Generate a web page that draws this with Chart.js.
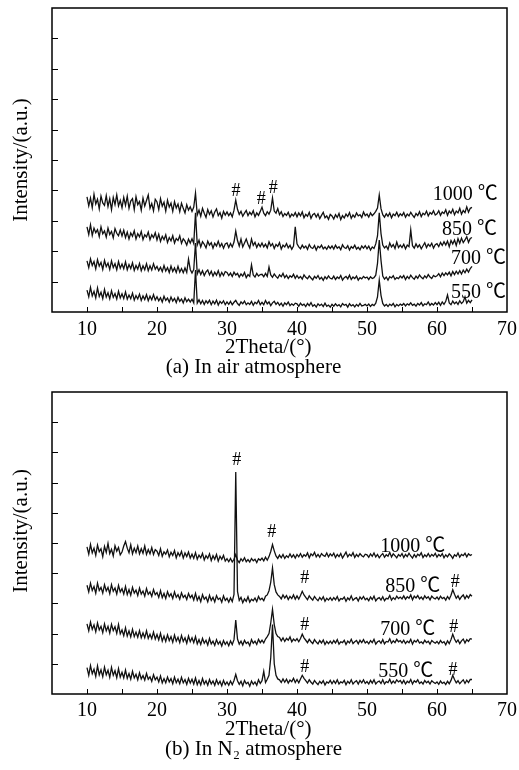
<!DOCTYPE html>
<html>
<head>
<meta charset="utf-8">
<title>XRD patterns</title>
<script src="https://cdn.jsdelivr.net/npm/chart.js@4.4.0/dist/chart.umd.min.js"></script>
<style>
  html, body { margin: 0; padding: 0; background: #fff; }
  body { width: 519px; height: 770px; position: relative; overflow: hidden; }
  canvas { position: absolute; left: 0; }
  #chartAir { top: 0; }
  #chartN2 { top: 380px; }
</style>
</head>
<body>
<canvas id="chartAir" width="519" height="380"></canvas>
<canvas id="chartN2" width="519" height="390"></canvas>
<script>
// 2Theta grid (deg), shared by all eight patterns
const theta = [
  10,10.25,10.5,10.75,11,11.25,11.5,11.75,12,12.25,12.5,12.75,13,13.25,13.5,13.75,14,14.25,14.5,14.75,
  15,15.25,15.5,15.75,16,16.25,16.5,16.75,17,17.25,17.5,17.75,18,18.25,18.5,18.75,19,19.25,19.5,19.75,
  20,20.25,20.5,20.75,21,21.25,21.5,21.75,22,22.25,22.5,22.75,23,23.25,23.5,23.75,24,24.25,24.5,24.75,
  25,25.25,25.5,25.75,26,26.25,26.5,26.75,27,27.25,27.5,27.75,28,28.25,28.5,28.75,29,29.25,29.5,29.75,
  30,30.25,30.5,30.75,31,31.25,31.5,31.75,32,32.25,32.5,32.75,33,33.25,33.5,33.75,34,34.25,34.5,34.75,
  35,35.25,35.5,35.75,36,36.25,36.5,36.75,37,37.25,37.5,37.75,38,38.25,38.5,38.75,39,39.25,39.5,39.75,
  40,40.25,40.5,40.75,41,41.25,41.5,41.75,42,42.25,42.5,42.75,43,43.25,43.5,43.75,44,44.25,44.5,44.75,
  45,45.25,45.5,45.75,46,46.25,46.5,46.75,47,47.25,47.5,47.75,48,48.25,48.5,48.75,49,49.25,49.5,49.75,
  50,50.25,50.5,50.75,51,51.25,51.5,51.75,52,52.25,52.5,52.75,53,53.25,53.5,53.75,54,54.25,54.5,54.75,
  55,55.25,55.5,55.75,56,56.25,56.5,56.75,57,57.25,57.5,57.75,58,58.25,58.5,58.75,59,59.25,59.5,59.75,
  60,60.25,60.5,60.75,61,61.25,61.5,61.75,62,62.25,62.5,62.75,63,63.25,63.5,63.75,64,64.25,64.5,64.75,
  65
];

// (a) in air, stacked intensities (a.u.)
const air1000 = [
  3.79,3.49,3.75,3.43,3.87,3.55,3.71,3.39,3.81,3.59,3.51,3.83,3.47,3.73,3.37,3.77,3.53,3.85,3.49,3.67,
  3.43,3.77,3.51,3.81,3.41,3.65,3.73,3.37,3.79,3.53,3.63,3.35,3.75,3.49,3.67,3.85,3.41,3.57,3.33,3.71,
  3.62,3.37,3.73,3.48,3.61,3.32,3.68,3.45,3.58,3.31,3.63,3.42,3.55,3.30,3.58,3.41,3.26,3.53,3.35,3.46,
  3.31,3.45,3.91,3.19,3.35,3.15,3.41,3.25,3.11,3.37,3.21,3.33,3.13,3.29,3.39,3.17,3.27,3.09,3.31,3.19,
  3.29,3.17,3.26,3.13,3.35,3.68,3.38,3.21,3.31,3.15,3.25,3.34,3.17,3.28,3.20,3.33,3.13,3.26,3.18,3.31,
  3.45,3.25,3.17,3.30,3.22,3.35,3.75,3.32,3.25,3.40,3.20,3.30,3.14,3.24,3.18,3.28,3.12,3.22,3.16,3.27,
  3.13,3.26,3.16,3.29,3.10,3.21,3.15,3.28,3.08,3.20,3.24,3.12,3.23,3.07,3.18,3.28,3.10,3.16,3.05,3.21,
  3.16,3.06,3.20,3.11,3.24,3.04,3.17,3.09,3.22,3.14,3.27,3.08,3.19,3.12,3.26,3.16,3.20,3.11,3.29,3.17,
  3.22,3.12,3.26,3.17,3.23,3.31,3.42,3.85,3.40,3.20,3.12,3.23,3.15,3.26,3.10,3.22,3.17,3.28,3.14,3.23,
  3.17,3.27,3.12,3.22,3.16,3.28,3.19,3.11,3.24,3.17,3.30,3.14,3.25,3.20,3.32,3.16,3.27,3.22,3.33,3.19,
  3.23,3.33,3.18,3.29,3.24,3.36,3.18,3.32,3.25,3.38,3.20,3.32,3.26,3.41,3.22,3.34,3.27,3.46,3.28,3.41,
  3.44
];
const air850 = [
  2.80,2.55,2.87,2.52,2.76,2.61,2.71,2.48,2.80,2.57,2.67,2.46,2.76,2.55,2.65,2.44,2.74,2.59,2.51,2.70,
  2.50,2.69,2.45,2.63,2.40,2.60,2.49,2.67,2.40,2.58,2.47,2.65,2.38,2.54,2.47,2.63,2.38,2.54,2.45,2.61,
  2.37,2.56,2.32,2.49,2.38,2.54,2.29,2.45,2.34,2.51,2.27,2.42,2.35,2.51,2.26,2.41,2.33,2.20,2.40,2.27,
  2.41,2.25,3.26,2.20,2.36,2.14,2.31,2.23,2.11,2.33,2.20,2.28,2.10,2.26,2.17,2.33,2.15,2.25,2.10,2.24,
  2.27,2.12,2.25,2.14,2.30,2.66,2.35,2.17,2.40,2.14,2.27,2.40,2.23,2.11,2.40,2.19,2.29,2.12,2.25,2.15,
  2.27,2.14,2.23,2.11,2.31,2.17,2.25,2.09,2.22,2.16,2.28,2.07,2.20,2.14,2.25,2.11,2.19,2.06,2.17,2.80,
  2.24,2.14,2.08,2.20,2.11,2.17,2.06,2.22,2.12,2.09,2.19,2.04,2.16,2.11,2.20,2.08,2.14,2.06,2.17,2.09,
  2.17,2.07,2.20,2.10,2.15,2.05,2.21,2.12,2.09,2.18,2.04,2.15,2.10,2.20,2.07,2.13,2.05,2.17,2.10,2.18,
  2.08,2.17,2.04,2.14,2.09,2.24,2.50,3.26,2.58,2.20,2.11,2.17,2.06,2.27,2.14,2.22,2.09,2.30,2.12,2.20,
  2.12,2.23,2.08,2.20,2.15,2.70,2.18,2.10,2.24,2.13,2.21,2.08,2.18,2.28,2.12,2.23,2.16,2.26,2.10,2.21,
  2.25,2.15,2.29,2.19,2.31,2.20,2.33,2.15,2.35,2.24,2.37,2.19,2.41,2.26,2.43,2.28,2.37,2.48,2.29,2.42,
  2.45
];
const air700 = [
  1.68,1.46,1.75,1.53,1.66,1.42,1.72,1.51,1.63,1.40,1.70,1.49,1.61,1.40,1.68,1.46,1.59,1.39,1.66,1.44,
  1.58,1.42,1.65,1.39,1.56,1.43,1.62,1.37,1.53,1.41,1.60,1.36,1.52,1.39,1.59,1.36,1.52,1.38,1.59,1.41,
  1.50,1.36,1.47,1.33,1.53,1.35,1.46,1.30,1.51,1.33,1.45,1.30,1.50,1.31,1.43,1.29,1.45,1.30,1.74,1.40,
  1.28,1.40,2.27,1.25,1.39,1.23,1.36,1.20,1.32,1.38,1.22,1.34,1.18,1.31,1.21,1.36,1.17,1.30,1.20,1.33,
  1.30,1.20,1.28,1.17,1.31,1.22,1.27,1.15,1.25,1.18,1.30,1.13,1.23,1.17,1.55,1.22,1.15,1.27,1.18,1.23,
  1.24,1.16,1.27,1.17,1.48,1.22,1.14,1.25,1.17,1.11,1.22,1.16,1.27,1.13,1.21,1.10,1.19,1.14,1.24,1.11,
  1.20,1.11,1.17,1.08,1.22,1.14,1.09,1.19,1.12,1.06,1.17,1.11,1.20,1.08,1.14,1.04,1.16,1.09,1.19,1.11,
  1.09,1.18,1.07,1.15,1.10,1.20,1.05,1.13,1.17,1.09,1.21,1.07,1.15,1.10,1.18,1.05,1.13,1.09,1.17,1.12,
  1.15,1.07,1.16,1.10,1.13,1.21,1.60,2.37,1.70,1.18,1.08,1.15,1.05,1.16,1.12,1.19,1.07,1.13,1.10,1.18,
  1.12,1.20,1.07,1.17,1.10,1.21,1.13,1.08,1.18,1.11,1.22,1.14,1.09,1.19,1.12,1.23,1.15,1.10,1.20,1.16,
  1.19,1.26,1.16,1.28,1.20,1.29,1.22,1.31,1.19,1.33,1.23,1.34,1.25,1.36,1.25,1.38,1.29,1.41,1.31,1.43,
  1.50
];
const air550 = [
  0.72,0.50,0.81,0.53,0.68,0.46,0.79,0.51,0.65,0.44,0.74,0.49,0.63,0.43,0.70,0.48,0.61,0.43,0.68,0.46,
  0.60,0.44,0.66,0.42,0.56,0.44,0.62,0.39,0.54,0.43,0.59,0.38,0.53,0.41,0.57,0.37,0.52,0.40,0.57,0.39,
  0.50,0.37,0.47,0.33,0.52,0.38,0.46,0.32,0.49,0.36,0.45,0.31,0.48,0.35,0.43,0.30,0.47,0.34,0.42,0.33,
  0.42,0.30,1.38,0.29,0.40,0.27,0.38,0.25,0.37,0.29,0.39,0.24,0.36,0.27,0.39,0.23,0.35,0.28,0.37,0.24,
  0.33,0.25,0.35,0.24,0.32,0.38,0.28,0.22,0.33,0.27,0.36,0.24,0.30,0.25,0.35,0.22,0.32,0.27,0.38,0.24,
  0.32,0.24,0.38,0.27,0.33,0.21,0.30,0.35,0.25,0.32,0.22,0.29,0.19,0.30,0.24,0.33,0.21,0.27,0.22,0.29,
  0.27,0.19,0.29,0.22,0.26,0.18,0.28,0.21,0.31,0.19,0.24,0.16,0.27,0.21,0.26,0.18,0.29,0.19,0.23,0.16,
  0.25,0.19,0.27,0.20,0.24,0.17,0.28,0.22,0.25,0.16,0.27,0.20,0.24,0.17,0.25,0.19,0.28,0.20,0.22,0.25,
  0.20,0.26,0.18,0.25,0.21,0.29,0.50,1.05,0.55,0.28,0.20,0.25,0.18,0.26,0.21,0.28,0.17,0.25,0.20,0.26,
  0.22,0.28,0.20,0.27,0.23,0.30,0.22,0.26,0.19,0.28,0.23,0.31,0.20,0.27,0.24,0.33,0.22,0.28,0.23,0.31,
  0.24,0.32,0.22,0.33,0.25,0.35,0.56,0.30,0.24,0.36,0.27,0.33,0.25,0.37,0.28,0.34,0.50,0.29,0.38,0.31,
  0.40
];

// (b) in N2, stacked intensities (a.u.)
const n1000 = [
  4.87,4.63,4.95,4.67,4.83,4.59,4.93,4.71,4.81,4.55,4.89,4.69,4.99,4.65,4.79,4.57,4.91,4.73,4.85,4.61,
  4.70,4.90,5.05,4.83,4.68,4.94,4.64,4.83,4.68,4.90,4.64,4.81,4.66,4.90,4.62,4.78,4.64,4.85,4.62,4.78,
  4.73,4.59,4.81,4.56,4.71,4.63,4.77,4.54,4.69,4.59,4.75,4.51,4.68,4.57,4.72,4.50,4.67,4.55,4.70,4.50,
  4.63,4.49,4.68,4.46,4.60,4.51,4.66,4.44,4.58,4.49,4.64,4.42,4.58,4.46,4.62,4.40,4.56,4.46,4.59,4.40,
  4.48,4.38,4.49,4.37,4.46,4.62,4.43,4.35,4.48,4.40,4.51,4.38,4.45,4.37,4.49,4.41,4.46,4.35,4.48,4.43,
  4.50,4.41,4.53,4.43,4.55,4.72,4.95,4.74,4.57,4.49,4.60,4.51,4.62,4.49,4.58,4.52,4.64,4.53,4.61,4.50,
  4.62,4.54,4.65,4.53,4.61,4.56,4.67,4.51,4.64,4.58,4.69,4.54,4.62,4.53,4.65,4.59,4.56,4.67,4.54,4.64,
  4.57,4.66,4.52,4.62,4.55,4.65,4.50,4.60,4.70,4.54,4.63,4.57,4.68,4.52,4.62,4.55,4.65,4.58,4.54,4.63,
  4.61,4.53,4.64,4.56,4.67,4.54,4.62,4.51,4.59,4.65,4.53,4.61,4.56,4.69,4.54,4.64,4.58,4.51,4.62,4.56,
  4.65,4.52,4.62,4.55,4.66,4.57,4.50,4.62,4.53,4.63,4.58,4.68,4.52,4.61,4.55,4.65,4.54,4.62,4.57,4.66,
  4.53,4.62,4.56,4.65,4.51,4.61,4.54,4.64,4.58,4.49,4.61,4.56,4.67,4.53,4.62,4.58,4.66,4.54,4.64,4.59,
  4.62
];
const n850 = [
  3.60,3.38,3.67,3.43,3.56,3.34,3.67,3.43,3.53,3.34,3.62,3.41,3.53,3.32,3.62,3.40,3.51,3.31,3.60,3.38,
  3.49,3.31,3.56,3.29,3.46,3.27,3.53,3.34,3.44,3.26,3.51,3.31,3.41,3.24,3.49,3.30,3.38,3.23,3.46,3.29,
  3.36,3.20,3.42,3.19,3.33,3.16,3.39,3.23,3.32,3.16,3.38,3.20,3.29,3.14,3.35,3.20,3.27,3.13,3.33,3.19,
  3.27,3.11,3.33,3.10,3.23,3.06,3.29,3.14,3.21,3.05,3.27,3.10,3.20,3.05,3.26,3.13,3.18,3.04,3.25,3.10,
  3.17,3.04,3.18,3.06,3.30,7.35,3.40,3.10,3.20,3.02,3.15,3.07,3.22,3.04,3.14,3.09,3.18,3.06,3.23,3.12,
  3.17,3.09,3.24,3.28,3.42,3.70,4.17,3.62,3.38,3.28,3.23,3.15,3.28,3.18,3.26,3.13,3.23,3.16,3.28,3.14,
  3.25,3.14,3.26,3.40,3.28,3.20,3.12,3.25,3.17,3.11,3.23,3.15,3.09,3.20,3.12,3.22,3.07,3.17,3.11,3.19,
  3.10,3.19,3.12,3.23,3.08,3.16,3.14,3.21,3.07,3.18,3.12,3.25,3.10,3.16,3.19,3.08,3.21,3.14,3.23,3.12,
  3.17,3.09,3.21,3.13,3.24,3.08,3.16,3.19,3.11,3.22,3.09,3.17,3.15,3.26,3.11,3.19,3.13,3.24,3.16,3.21,
  3.15,3.25,3.14,3.22,3.17,3.28,3.12,3.24,3.18,3.26,3.15,3.21,3.13,3.25,3.17,3.22,3.12,3.24,3.18,3.15,
  3.21,3.13,3.24,3.16,3.20,3.11,3.23,3.14,3.27,3.45,3.30,3.17,3.25,3.13,3.22,3.28,3.15,3.26,3.18,3.29,
  3.24
];
const n700 = [
  2.32,2.09,2.38,2.14,2.29,2.06,2.35,2.12,2.24,2.03,2.32,2.09,2.24,2.02,2.31,2.10,2.23,2.01,2.30,1.99,
  2.12,1.93,2.19,1.92,2.09,1.89,2.14,1.90,2.05,1.88,2.10,1.86,2.02,1.86,2.09,1.84,1.98,1.83,2.05,1.82,
  1.97,1.79,2.01,1.75,1.92,1.74,1.96,1.77,1.90,1.71,1.95,1.75,1.88,1.70,1.94,1.74,1.86,1.68,1.92,1.73,
  1.86,1.70,1.90,1.66,1.80,1.64,1.84,1.68,1.78,1.62,1.84,1.66,1.75,1.61,1.80,1.65,1.74,1.59,1.77,1.64,
  1.73,1.60,1.76,1.64,1.80,2.45,1.82,1.65,1.75,1.62,1.78,1.67,1.72,1.60,1.80,1.68,1.75,1.64,1.81,1.70,
  1.78,1.69,1.82,1.90,2.00,2.35,2.80,2.30,2.00,1.90,1.87,1.76,1.86,1.74,1.84,1.78,1.89,1.73,1.82,1.76,
  1.83,1.73,1.84,1.98,1.86,1.78,1.70,1.81,1.73,1.67,1.80,1.72,1.66,1.77,1.69,1.79,1.64,1.74,1.67,1.75,
  1.67,1.77,1.69,1.80,1.65,1.73,1.70,1.78,1.64,1.75,1.69,1.81,1.67,1.73,1.77,1.66,1.78,1.70,1.80,1.69,
  1.74,1.66,1.77,1.70,1.81,1.65,1.73,1.76,1.68,1.80,1.66,1.74,1.72,1.83,1.68,1.76,1.70,1.81,1.73,1.77,
  1.69,1.78,1.67,1.75,1.70,1.81,1.65,1.77,1.72,1.80,1.69,1.73,1.67,1.78,1.70,1.75,1.65,1.77,1.72,1.68,
  1.74,1.66,1.77,1.69,1.73,1.63,1.76,1.67,1.80,1.98,1.82,1.71,1.79,1.67,1.76,1.82,1.69,1.80,1.74,1.83,
  1.82
];
const n550 = [
  0.87,0.62,0.94,0.67,0.82,0.58,0.93,0.63,0.80,0.57,0.89,0.64,0.79,0.55,0.88,0.62,0.77,0.54,0.84,0.56,
  0.72,0.53,0.79,0.52,0.68,0.49,0.75,0.53,0.65,0.47,0.70,0.50,0.61,0.46,0.68,0.49,0.57,0.42,0.64,0.47,
  0.56,0.40,0.60,0.37,0.51,0.37,0.56,0.40,0.51,0.34,0.56,0.37,0.49,0.34,0.55,0.37,0.48,0.32,0.52,0.36,
  0.49,0.33,0.53,0.31,0.45,0.30,0.51,0.33,0.44,0.29,0.48,0.33,0.43,0.29,0.47,0.32,0.42,0.27,0.45,0.31,
  0.40,0.29,0.43,0.31,0.45,0.65,0.44,0.32,0.42,0.27,0.45,0.34,0.39,0.26,0.43,0.32,0.40,0.29,0.47,0.35,
  0.44,0.75,0.38,0.49,0.62,1.20,2.30,1.00,0.62,0.50,0.47,0.38,0.50,0.39,0.49,0.36,0.46,0.41,0.52,0.38,
  0.48,0.37,0.50,0.62,0.52,0.44,0.36,0.47,0.39,0.33,0.45,0.37,0.31,0.42,0.35,0.44,0.30,0.40,0.36,0.45,
  0.34,0.44,0.35,0.47,0.33,0.40,0.37,0.45,0.31,0.42,0.35,0.47,0.33,0.40,0.44,0.33,0.45,0.37,0.47,0.35,
  0.41,0.33,0.45,0.36,0.47,0.33,0.40,0.43,0.35,0.47,0.33,0.41,0.38,0.49,0.35,0.43,0.36,0.47,0.40,0.45,
  0.35,0.45,0.33,0.42,0.37,0.48,0.33,0.44,0.39,0.47,0.35,0.40,0.33,0.45,0.37,0.42,0.33,0.44,0.39,0.35,
  0.40,0.32,0.43,0.35,0.39,0.31,0.42,0.34,0.45,0.62,0.48,0.37,0.44,0.34,0.41,0.47,0.35,0.46,0.38,0.48,
  0.48
];

const tempNames = ['1000 ℃', '850 ℃', '700 ℃', '550 ℃'];
const xTickValues = [10, 20, 30, 40, 50, 60, 70];
const xTitle = '2Theta/(°)';
const yTitle = 'Intensity/(a.u.)';

// where the curve names and the # peak marks sit, in (2Theta, intensity) units
const airNamePos = [[59.4, 3.85], [60.7, 2.70], [62.0, 1.74], [62.0, 0.63]];
const airHashPos = [[31.3, 3.98], [34.9, 3.72], [36.6, 4.08]];
const n2NamePos = [[51.9, 4.87], [52.6, 3.54], [51.9, 2.12], [51.6, 0.73]];
const n2HashPos = [[31.4, 7.75], [36.4, 5.36], [41.1, 3.84], [62.6, 3.71],
                   [41.1, 2.28], [62.4, 2.22], [41.1, 0.89], [62.3, 0.79]];

const SERIF = "'Liberation Serif', 'Times New Roman', serif";
const LABEL_FONT = "'Liberation Serif', 'Noto Sans CJK SC', serif";

// frame round the plot area plus short inward tick marks
const frameTicks = {
  id: 'frameTicks',
  afterDraw(chart) {
    const {ctx, chartArea: a, scales: {x, y}} = chart;
    ctx.save();
    ctx.strokeStyle = '#000';
    ctx.lineWidth = 1;
    ctx.beginPath();
    x.ticks.forEach(t => {
      if (t.value <= x.min || t.value >= x.max) return;
      const px = Math.round(x.getPixelForValue(t.value)) + 0.5;
      ctx.moveTo(px, a.bottom);
      ctx.lineTo(px, a.bottom - 5);
    });
    y.ticks.forEach(t => {
      if (t.value <= y.min || t.value >= y.max) return;
      const py = Math.round(y.getPixelForValue(t.value)) + 0.5;
      ctx.moveTo(a.left, py);
      ctx.lineTo(a.left + 6, py);
    });
    ctx.stroke();
    ctx.lineWidth = 1.5;
    ctx.strokeRect(a.left, a.top, a.right - a.left, a.bottom - a.top);
    ctx.restore();
  }
};

// axis titles, curve names and # marks, placed through the scales
const textMarks = {
  id: 'textMarks',
  afterDraw(chart, args, opts) {
    const {ctx, chartArea: a, scales: {x, y}} = chart;
    ctx.save();
    ctx.fillStyle = '#000';
    ctx.textBaseline = 'middle';

    ctx.font = '20px ' + LABEL_FONT;
    ctx.textAlign = 'left';
    opts.names.forEach((p, i) => {
      ctx.fillText(tempNames[i], x.getPixelForValue(p[0]), y.getPixelForValue(p[1]));
    });

    ctx.font = '18px ' + SERIF;
    ctx.textAlign = 'center';
    opts.hashes.forEach(p => {
      ctx.fillText('#', x.getPixelForValue(p[0]), y.getPixelForValue(p[1]));
    });

    ctx.font = '21px ' + SERIF;
    ctx.fillText(xTitle, x.getPixelForValue(opts.xTitleAt), a.bottom + 35);

    ctx.translate(21, y.getPixelForValue(opts.yTitleAt));
    ctx.rotate(-Math.PI / 2);
    ctx.fillText(yTitle, 0, 0);
    ctx.restore();
  }
};

function buildPanel(id, series, caption, marks, lay) {
  const datasets = series.map((s, i) => ({
    label: tempNames[i],
    data: s,
    borderColor: '#111',
    borderWidth: 1.3,
    pointRadius: 0,
    tension: 0,
    fill: false
  }));

  return new Chart(document.getElementById(id), {
    type: 'line',
    data: { labels: theta, datasets: datasets },
    plugins: [frameTicks, textMarks],
    options: {
      responsive: false,
      animation: false,
      devicePixelRatio: 1,
      layout: { padding: { top: lay.top, right: 12, bottom: lay.bottom, left: 0 } },
      scales: {
        x: {
          type: 'linear',
          min: 5, max: 70,
          grid: { display: false, drawTicks: false },
          border: { display: false },
          ticks: {
            stepSize: 5,
            autoSkip: false,
            maxRotation: 0,
            padding: lay.tickPad,
            color: '#000',
            font: { family: SERIF, size: 20, lineHeight: 1 },
            callback: v => xTickValues.includes(v) ? String(v) : ''
          },
          // labels are clipped to the axis box, so it has to hold them;
          // the "70" may hang past the plot edge without shrinking it
          afterFit: s => {
            s.height = lay.axisH;
            s.paddingLeft = 0;
            s.paddingRight = 0;
          }
        },
        y: {
          min: 0, max: 10,
          grid: { display: false, drawTicks: false },
          border: { display: false },
          ticks: { stepSize: 1, display: false },
          afterFit: s => {
            s.width = 52;
            s.paddingTop = 0;
            s.paddingBottom = 0;
          }
        }
      },
      plugins: {
        legend: { display: false },
        tooltip: { enabled: false },
        title: {
          display: true,
          position: 'bottom',
          text: caption,
          color: '#000',
          font: { family: SERIF, size: 21, weight: 'normal', lineHeight: 1 },
          padding: { top: lay.capPad, bottom: 0 }
        },
        textMarks: marks
      }
    }
  });
}

buildPanel('chartAir', [air1000, air850, air700, air550], '(a) In air atmosphere',
  { names: airNamePos, hashes: airHashPos, xTitleAt: 35.9, yTitleAt: 5.0 },
  { top: 8, bottom: 2.5, axisH: 30, tickPad: 8, capPad: 14.5 });
buildPanel('chartN2', [n1000, n850, n700, n550], '(b) In N₂ atmosphere',
  { names: n2NamePos, hashes: n2HashPos, xTitleAt: 35.9, yTitleAt: 5.4 },
  { top: 12, bottom: 10.5, axisH: 28, tickPad: 7, capPad: 16.5 });
</script>
</body>
</html>
